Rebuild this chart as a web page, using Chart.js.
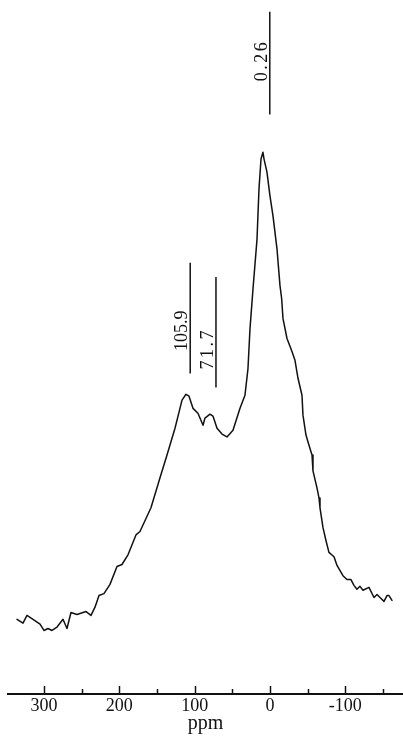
<!DOCTYPE html>
<html>
<head>
<meta charset="utf-8">
<script src="https://cdn.jsdelivr.net/npm/chart.js@4.4.1/dist/chart.umd.min.js"></script>
<style>
html, body { margin: 0; padding: 0; background: #fff; }
#wrap { width: 403px; height: 744px; }
</style>
</head>
<body>
<div id="wrap"><canvas id="spectrum" width="403" height="744"></canvas></div>
<script>
// Chemical shift (ppm) and relative intensity of the spectrum trace
const shiftPpm = [
  335.8, 327.9, 322.6, 314.6, 305.3, 300.0, 294.7, 289.4, 282.7, 274.8,
  269.5, 264.2, 256.2, 244.2, 237.6, 232.3, 227.0, 220.4, 212.4, 203.1,
  196.5, 188.5, 177.9, 172.6, 158.0, 146.0, 136.7, 126.1, 119.5, 116.8,
  111.5, 107.5, 102.2, 95.6, 88.9, 86.3, 79.6, 75.7, 70.3, 63.7,
  57.1, 49.1, 39.8, 33.2, 29.2, 26.5, 22.5, 17.2, 14.6, 11.9,
  9.3, 7.9, 4.0, 0.0, -4.0, -9.3, -13.3, -15.5, -17.3, -22.6,
  -29.2, -33.2, -37.2, -42.5, -43.8, -47.8, -51.8, -55.8, -57.1, -62.4,
  -65.1, -66.4, -70.4, -74.4, -78.3, -85.0, -89.0, -96.9, -102.2, -107.5,
  -111.5, -115.5, -119.5, -123.5, -131.4, -138.1, -142.1, -147.4, -151.4, -155.3,
  -158.0, -162.0
];
const intensity = [
  3.7, 2.9, 4.5, 3.7, 2.7, 1.4, 1.8, 1.4, 2.1, 3.7,
  1.8, 5.1, 4.7, 5.3, 4.5, 6.2, 8.6, 9.0, 10.9, 14.6,
  15.0, 17.0, 21.1, 21.8, 26.7, 32.9, 37.6, 43.1, 47.2, 48.9,
  50.1, 49.7, 47.2, 46.2, 43.7, 45.2, 46.0, 45.6, 43.1, 41.9,
  41.3, 42.7, 47.2, 49.9, 55.4, 63.7, 71.9, 82.1, 92.4, 98.6,
  100.0, 98.6, 95.9, 91.0, 86.9, 80.1, 72.5, 69.8, 65.7, 61.6,
  58.9, 57.1, 53.4, 49.9, 45.8, 41.7, 39.6, 37.6, 34.3, 30.8,
  28.7, 26.7, 22.6, 19.9, 17.5, 16.6, 14.8, 12.7, 11.9, 11.9,
  10.7, 9.9, 10.5, 9.7, 10.3, 8.2, 8.8, 8.0, 7.4, 8.6,
  8.6, 7.6
];

// Assigned peak positions
const peakShifts = [105.9, 71.7, 0.26];
const peakLabels = ['105.9', '71.7', '0.26'];

// Axis ticks and their labels
const axisTicks = [300, 250, 200, 150, 100, 50, 0, -50, -100, -150];
const axisLabels = ['300', '', '200', '', '100', '', '0', '', '-100', ''];

// Placement of the peak markers (intensity units) and label spacing
const markerSpan = [[54.4, 77.2], [51.5, 74.3], [107.8, 129.0]];
const labelAt = [63.2, 59.5, 118.9];
const labelSpacing = [0, 2.5, 2.5];

const ink = '#111';
const serif = '"Liberation Serif", "Times New Roman", serif';

const spectrumData = shiftPpm.map((x, i) => ({ x: x, y: intensity[i] }));
const markerSets = peakShifts.map((v, i) => ({
  data: [{ x: v, y: markerSpan[i][0] }, { x: v, y: markerSpan[i][1] }],
  borderColor: ink,
  borderWidth: 1.5,
  pointRadius: 0,
  showLine: true,
  clip: false
}));

// Upward tick marks on the axis and rotated peak labels
const decorations = {
  id: 'decorations',
  afterDraw(chart) {
    const ctx = chart.ctx;
    const xs = chart.scales.x;
    const ys = chart.scales.y;
    ctx.save();
    ctx.strokeStyle = ink;
    ctx.lineWidth = 1.5;
    axisTicks.forEach((v, i) => {
      const px = Math.round(xs.getPixelForValue(v)) + 0.5;
      const len = axisLabels[i] ? 8 : 5;
      ctx.beginPath();
      ctx.moveTo(px, xs.top);
      ctx.lineTo(px, xs.top - len);
      ctx.stroke();
    });
    ctx.fillStyle = ink;
    ctx.font = '18px ' + serif;
    ctx.textAlign = 'center';
    ctx.textBaseline = 'alphabetic';
    peakShifts.forEach((v, i) => {
      const px = xs.getPixelForValue(v);
      const py = ys.getPixelForValue(labelAt[i]);
      ctx.save();
      ctx.translate(px - 3, py);
      ctx.rotate(-Math.PI / 2);
      ctx.letterSpacing = labelSpacing[i] + 'px';
      ctx.fillText(peakLabels[i], 0, 0);
      ctx.restore();
    });
    ctx.restore();
  }
};

new Chart(document.getElementById('spectrum'), {
  type: 'scatter',
  data: {
    datasets: [{
      data: spectrumData,
      borderColor: ink,
      borderWidth: 1.5,
      borderJoinStyle: 'round',
      borderCapStyle: 'round',
      pointRadius: 0,
      showLine: true,
      tension: 0
    }].concat(markerSets)
  },
  options: {
    responsive: false,
    animation: false,
    devicePixelRatio: 1,
    layout: { padding: { top: 0, left: 8, right: 0, bottom: 10 } },
    plugins: {
      legend: { display: false },
      tooltip: { enabled: false }
    },
    scales: {
      x: {
        type: 'linear',
        reverse: true,
        min: -176.6,
        max: 347.8,
        afterBuildTicks: (scale) => {
          scale.ticks = axisTicks.map(v => ({ value: v }));
        },
        grid: { display: true, drawOnChartArea: false, drawTicks: false },
        border: { display: true, color: ink, width: 2 },
        ticks: {
          autoSkip: false,
          maxRotation: 0,
          padding: 3,
          color: ink,
          font: { family: serif, size: 18, lineHeight: 1 },
          callback: (v) => axisLabels[axisTicks.indexOf(v)]
        },
        title: {
          display: true,
          text: 'ppm',
          color: ink,
          font: { family: serif, size: 20, lineHeight: 1 },
          padding: { top: -4, bottom: 0 }
        }
      },
      y: {
        type: 'linear',
        display: false,
        min: -11.7,
        max: 131.4
      }
    }
  },
  plugins: [decorations]
});
</script>
</body>
</html>
